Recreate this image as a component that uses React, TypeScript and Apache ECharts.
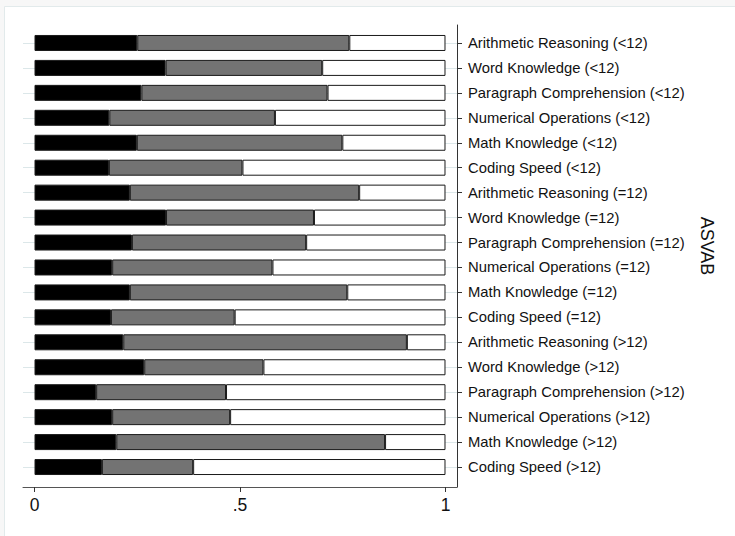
import React, { useEffect, useRef } from "react";
import * as echarts from "echarts";

const categories = [
  "Arithmetic Reasoning (<12)",
  "Word Knowledge (<12)",
  "Paragraph Comprehension (<12)",
  "Numerical Operations (<12)",
  "Math Knowledge (<12)",
  "Coding Speed (<12)",
  "Arithmetic Reasoning (=12)",
  "Word Knowledge (=12)",
  "Paragraph Comprehension (=12)",
  "Numerical Operations (=12)",
  "Math Knowledge (=12)",
  "Coding Speed (=12)",
  "Arithmetic Reasoning (>12)",
  "Word Knowledge (>12)",
  "Paragraph Comprehension (>12)",
  "Numerical Operations (>12)",
  "Math Knowledge (>12)",
  "Coding Speed (>12)",
];

const lowShare = [0.25, 0.319, 0.26, 0.182, 0.249, 0.181, 0.232, 0.32, 0.237, 0.189, 0.232, 0.186, 0.216, 0.267, 0.15, 0.189, 0.199, 0.164];
const midShare = [0.516, 0.381, 0.453, 0.403, 0.5, 0.325, 0.558, 0.36, 0.424, 0.39, 0.529, 0.301, 0.69, 0.29, 0.316, 0.287, 0.654, 0.222];
const highShare = [0.234, 0.3, 0.287, 0.415, 0.251, 0.494, 0.21, 0.32, 0.339, 0.421, 0.239, 0.513, 0.094, 0.443, 0.534, 0.524, 0.147, 0.614];

const xTicks = [0, 0.5, 1];
const xTickLabels = ["0", ".5", "1"];
const axisTitle = "ASVAB";

const FONT = '"Liberation Sans", Arial, Helvetica, sans-serif';

export default function App() {
  const ref = useRef<HTMLDivElement>(null);

  useEffect(() => {
    if (!ref.current) return;
    const chart = echarts.init(ref.current, null, { renderer: "svg" });
    const barStyle = (color: string) => ({
      color,
      borderColor: "#1a1a1a",
      borderWidth: 1,
    });
    const xMin = -0.028;
    const xMax = 1.028;
    chart.setOption({
      animation: false,
      backgroundColor: "transparent",
      textStyle: { fontFamily: FONT },
      grid: [
        { left: 23, right: 278, top: 30.5, bottom: 56.5 },
        { left: 23, right: 278, top: 25, bottom: 49 },
      ],
      xAxis: [
        { type: "value", gridIndex: 0, min: xMin, max: xMax, show: false },
        {
          type: "value",
          gridIndex: 1,
          min: xMin,
          max: xMax,
          axisLine: { show: true, onZero: false, lineStyle: { color: "#555", width: 1 } },
          axisTick: {
            show: true,
            customValues: xTicks,
            length: 5,
            lineStyle: { color: "#333" },
          },
          axisLabel: {
            show: true,
            customValues: xTicks,
            margin: 9,
            fontSize: 17.5,
            color: "#111",
            fontFamily: FONT,
            formatter: (v: number) => xTickLabels[xTicks.indexOf(v)] ?? "",
          },
          splitLine: { show: false },
        },
      ],
      yAxis: [
        {
          type: "category",
          gridIndex: 0,
          data: categories,
          inverse: true,
          position: "right",
          axisLine: { show: true, onZero: false, lineStyle: { color: "rgba(0,0,0,0)" } },
          axisTick: {
            show: true,
            alignWithLabel: true,
            length: 5,
            lineStyle: { color: "#333" },
          },
          axisLabel: {
            margin: 11,
            fontSize: 14.8,
            color: "#111",
            fontFamily: FONT,
          },
          splitLine: { show: false },
        },
        {
          type: "value",
          gridIndex: 1,
          min: 0,
          max: 1,
          position: "right",
          axisLine: { show: true, onZero: false, lineStyle: { color: "#333", width: 1 } },
          axisTick: { show: false },
          axisLabel: { show: false },
          splitLine: { show: false },
        },
      ],
      graphic: [
        {
          type: "rect",
          z: -100,
          silent: true,
          shape: { x: 4.5, y: 6.5, width: 740, height: 540 },
          style: { fill: "#ffffff", stroke: "#e2eaeb", lineWidth: 1 },
        },
        {
          type: "text",
          x: 707,
          y: 246,
          rotation: -Math.PI / 2,
          silent: true,
          style: {
            text: axisTitle,
            fontSize: 18,
            fontFamily: FONT,
            fill: "#111",
            align: "center",
            verticalAlign: "middle",
          },
        },
      ],
      series: [
        {
          name: "Low",
          type: "bar",
          stack: "total",
          xAxisIndex: 0,
          yAxisIndex: 0,
          barWidth: 16,
          data: lowShare,
          itemStyle: barStyle("#000000"),
          markLine: {
            silent: true,
            symbol: "none",
            z: 1,
            label: { show: false },
            lineStyle: { color: "#dce7e9", width: 1, type: "solid" },
            data: categories.map((c) => ({ yAxis: c })),
          },
        },
        {
          name: "Medium",
          type: "bar",
          stack: "total",
          xAxisIndex: 0,
          yAxisIndex: 0,
          barWidth: 16,
          data: midShare,
          itemStyle: barStyle("#737373"),
        },
        {
          name: "High",
          type: "bar",
          stack: "total",
          xAxisIndex: 0,
          yAxisIndex: 0,
          barWidth: 16,
          data: highShare,
          itemStyle: barStyle("#ffffff"),
        },
      ],
    });
    return () => chart.dispose();
  }, []);

  return (
    <div
      ref={ref}
      style={{
        position: "fixed",
        left: 0,
        top: 0,
        width: 735,
        height: 536,
        background: "#f7f7f7",
      }}
    />
  );
}
